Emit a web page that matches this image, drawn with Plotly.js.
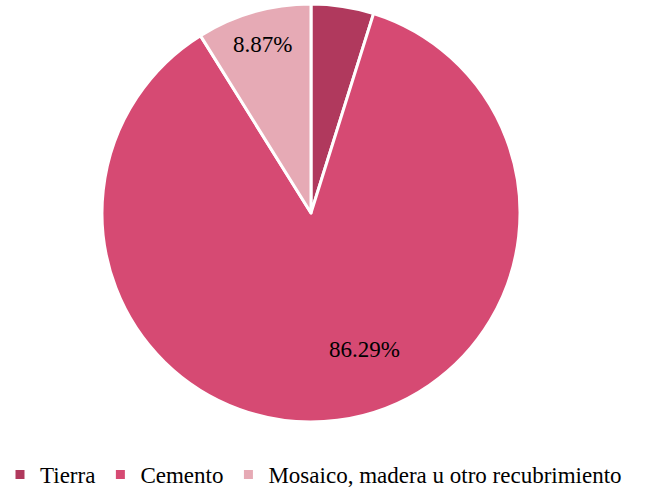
<!DOCTYPE html>
<html><head><meta charset="utf-8">
<script src="https://cdn.plot.ly/plotly-3.0.1.min.js"></script>
<style>
html,body{margin:0;background:#fff;overflow:hidden}
#chart{width:650px;height:496px}
</style>
</head><body><div id="chart"></div>
<script>
const categories = ["Tierra", "Cemento", "Mosaico, madera u otro recubrimiento"];
const values = [4.84, 86.29, 8.87];
const labelTexts = ["", "86.29%", "8.87%"];
const colors = ["#b0395d", "#d64a73", "#e6aab5"];

const FONT = "Liberation Serif";
const W = 650, H = 496;
const domX = [0.1554, 0.8015], domY = [1 - 422 / H, 1 - 4 / H];

const trace = {
  type: "pie",
  labels: categories,
  values: values,
  textinfo: "none",
  sort: false,
  direction: "clockwise",
  rotation: 0,
  marker: {colors: colors, line: {color: "#ffffff", width: 3}},
  domain: {x: domX, y: domY},
  hoverinfo: "label+percent"
};

// data labels placed along slice bisectors (radial fractions)
const labelRadius = [0, 0.70, 0.84];
const labelAngleShift = [0, -14, 0];
const cx = (domX[0] + domX[1]) / 2 * W, cy = (1 - (domY[0] + domY[1]) / 2) * H;
const R = Math.min((domX[1] - domX[0]) * W, (domY[1] - domY[0]) * H) / 2;
const total = values.reduce((a, b) => a + b, 0);
const annotations = [];
let cum = 0;
values.forEach((v, i) => {
  const mid = (cum + v / 2) / total * 360 + labelAngleShift[i];
  cum += v;
  if (!labelTexts[i]) return;
  const a = mid * Math.PI / 180;
  const px = cx + Math.sin(a) * R * labelRadius[i];
  const py = cy - Math.cos(a) * R * labelRadius[i];
  annotations.push({
    text: labelTexts[i], xref: "paper", yref: "paper",
    x: px / W, y: 1 - py / H, showarrow: false,
    xanchor: "center", yanchor: "middle",
    font: {family: FONT, size: 23, color: "#000000"}
  });
});

const layout = {
  width: W, height: H,
  margin: {l: 0, r: 0, t: 0, b: 0},
  paper_bgcolor: "#ffffff",
  showlegend: true,
  annotations: annotations,
  legend: {
    orientation: "h", x: 0, xanchor: "left", y: 0, yanchor: "bottom",
    font: {family: FONT, size: 23, color: "#000000"},
    itemwidth: 30, traceorder: "normal"
  }
};

Plotly.newPlot("chart", [trace], layout, {displayModeBar: false, staticPlot: true}).then(function () {
  document.querySelectorAll("#chart text").forEach(function (t) {
    t.style.setProperty("font-family", "'Liberation Serif', 'Times New Roman', serif", "important");
  });
});
</script>
</body></html>
